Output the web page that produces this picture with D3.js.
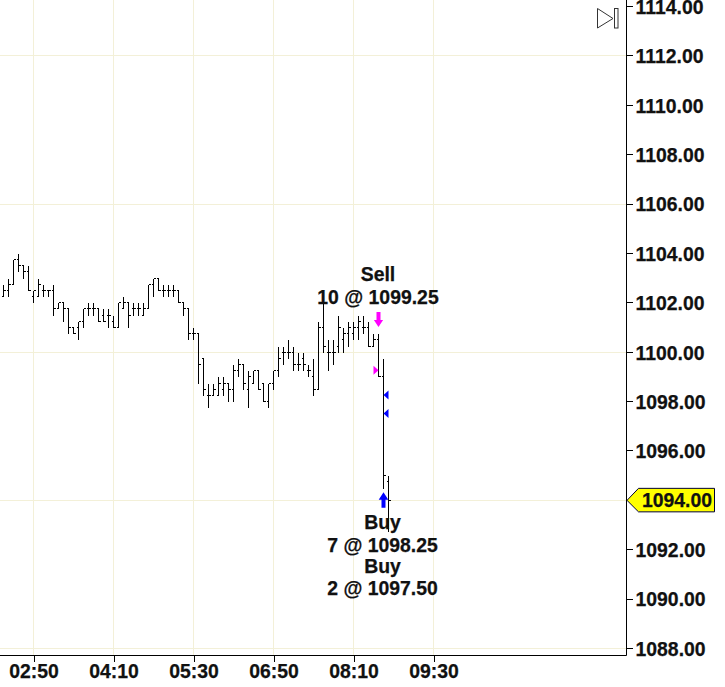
<!DOCTYPE html>
<html><head><meta charset="utf-8">
<script src="https://cdnjs.cloudflare.com/ajax/libs/d3/7.8.5/d3.min.js"></script>
<style>html,body{margin:0;padding:0;background:#fff;overflow:hidden}svg{display:block}text{font-family:"Liberation Sans",Arial,sans-serif;font-weight:bold;fill:#111;stroke:#111;stroke-width:0.25px}</style>
</head><body><svg id="c" width="725" height="687"></svg>
<script>
const firstBarMinute = 140, barMinutes = 5;
const opens = [1102.25,1102.5,1102.75,1103.75,1103.5,1103.25,1102.25,1102.25,1102.5,1102.5,
1102.5,1101.75,1102,1101.75,1101,1101,1101.25,1101.75,1101.75,1101.75,
1101.5,1101.5,1101.25,1101,1101.75,1102,1101.75,1101.75,1101.5,1101.75,
1102.75,1103,1102.5,1102.5,1102.5,1102.5,1102,1101.75,1100.75,1100.75,
1099.75,1098.25,1098.25,1098.25,1098.5,1098.75,1098.5,1099.25,1099.5,1098.5,
1098.75,1099.25,1098.75,1098,1098.75,1099.25,1100,1100,1100,1099.5,
1099.75,1099.25,1099,1098.5,1101,1100,1100,1100.25,1100.5,1100.75,
1100.75,1101,1101,1101,1100.25,1100.5,1099,1094.75];
const highs = [1102.75,1103,1103.75,1104,1103.5,1103.5,1102.5,1103,1102.75,1102.5,
1102.75,1102,1102,1101.75,1101,1101.25,1101.75,1102,1102,1101.75,
1101.75,1101.75,1101.5,1102,1102.25,1102,1102,1102,1102,1102.75,
1103,1103,1102.75,1102.75,1102.75,1102.5,1102,1101.75,1101,1100.75,
1099.75,1098.75,1098.75,1099,1099,1098.75,1099.5,1099.75,1099.5,1099.25,
1099.25,1099.25,1098.75,1098.75,1099.25,1100.25,1100.25,1100.5,1100.25,1100,
1100,1099.5,1099.75,1101.25,1102,1100.5,1100.5,1101.5,1101,1101.25,
1101.25,1101.5,1101.5,1101.25,1100.75,1100.75,1099.75,1095];
const lows = [1102.25,1102.25,1102.75,1103.25,1103,1102.5,1102,1102.25,1102.25,1102.25,
1101.5,1101.75,1101.25,1100.75,1100.75,1100.5,1101,1101.5,1101.5,1101.25,
1101.25,1101,1101,1101,1101.75,1101,1101.5,1101.5,1101.5,1101.75,
1102.25,1102.5,1102.25,1102.25,1102.25,1102,1101.5,1100.5,1100.5,1098.75,
1098.25,1097.75,1098.25,1098.25,1098.25,1098,1098,1099,1098.5,1097.75,
1098.75,1098.5,1098,1097.75,1098.5,1099,1099.5,1099.75,1099.25,1099.25,
1099.25,1099,1098.25,1098.5,1100,1099.25,1099.5,1100,1100,1100.25,
1100.5,1100.5,1100.75,1100.25,1100.25,1099,1094.5,1092.75];
const closes = [1102.5,1102.75,1103.75,1103.5,1103.25,1102.5,1102.5,1102.75,1102.5,1102.5,
1101.75,1102,1101.75,1101,1100.75,1101.25,1101.75,1101.75,1101.75,1101.25,
1101.25,1101.5,1101,1102,1102,1101.5,1101.75,1101.75,1101.75,1102.75,
1103,1102.5,1102.5,1102.5,1102.5,1102,1101.75,1100.75,1100.75,1099.5,
1098.5,1098.25,1098.5,1098.75,1098.75,1098.5,1099.25,1099.5,1098.75,1099,
1099.25,1098.5,1098,1098.75,1099.25,1099.75,1100,1100,1099.5,1099.5,
1099.5,1099.25,1098.5,1101,1100.25,1100,1100,1101,1100.75,1101,
1101,1101.25,1101,1100.25,1100.5,1099,1095,1094];
const priceTicks = [1114,1112,1110,1108,1106,1104,1102,1100,1098,1096,1094,1092,1090,1088];
const gridPrices = [1112,1106,1100,1094,1088];
const timeTickMinutes = [170,250,330,410,490,570];
const timeTickLabels = ["02:50","04:10","05:30","06:50","08:10","09:30"];
const lastPrice = 1094;
const sellFill = {minute:515,price:1099.25,arrowPrice:1101};
const buyFill = {minute:520,arrowPrice:1094};
const sellMarkPrices = [1099.25];
const buyMarkPrices = [1098.25,1097.5];
const sellLines = ["Sell","10 @ 1099.25"];
const buyLines = ["Buy","7 @ 1098.25","Buy","2 @ 1097.50"];

const plotR=626.5,plotB=655.5,fs="19.4px";
const svg=d3.select("#c");
const y=d3.scaleLinear().domain([1114,1088]).range([6,648]);
const x=d3.scaleLinear().domain([170,570]).range([33.5,433.5]);
const gridC="#f3f0d8";
const py=v=>Math.round(y(v))+0.5;
const gridG=svg.append("g").attr("shape-rendering","crispEdges");
gridG.selectAll("line.h").data(gridPrices).join("line").attr("class","h").attr("x1",0).attr("x2",plotR)
 .attr("y1",d=>py(d)).attr("y2",d=>py(d)).attr("stroke",gridC);
gridG.selectAll("line.v").data(timeTickMinutes).join("line").attr("class","v").attr("y1",0).attr("y2",plotB)
 .attr("x1",d=>x(d)).attr("x2",d=>x(d)).attr("stroke",gridC);

// OHLC bars
const bars=svg.append("g").attr("stroke","#000").attr("shape-rendering","crispEdges");
const mx=i=>Math.floor(x(firstBarMinute+i*barMinutes))+0.5;
opens.forEach((o,i)=>{
  const X=mx(i);
  bars.append("line").attr("x1",X).attr("x2",X).attr("y1",py(highs[i])).attr("y2",py(lows[i]));
  bars.append("line").attr("x1",X-2).attr("x2",X).attr("y1",py(o)).attr("y2",py(o));
  bars.append("line").attr("x1",X).attr("x2",X+2).attr("y1",py(closes[i])).attr("y2",py(closes[i]));
});

// axes
const ay=svg.append("g").attr("transform",`translate(${plotR},0)`)
 .call(d3.axisRight(y).tickValues(priceTicks).tickSize(6).tickPadding(3)
   .tickFormat(d=>d===lastPrice?"":d3.format(".2f")(d)));
ay.select(".domain").attr("d",`M0,0V${plotB}`).attr("stroke","#000");
ay.selectAll("line").attr("stroke","#000").attr("shape-rendering","crispEdges");
ay.selectAll("text").style("font-size",fs).attr("fill","#111").attr("dy","0.38em");
const ax=svg.append("g").attr("transform",`translate(0,${plotB})`)
 .call(d3.axisBottom(x).tickValues(timeTickMinutes).tickSize(6).tickPadding(3).tickFormat((d,i)=>timeTickLabels[i]));
ax.select(".domain").attr("d",`M0,0H${plotR}`).attr("stroke","#000");
ax.selectAll("line").attr("stroke","#000").attr("shape-rendering","crispEdges");
ax.selectAll("text").style("font-size",fs).attr("fill","#111");

// last price flag
const ly=y(lastPrice);
svg.append("path").attr("d",`M627,${ly+0.5}L638.5,${ly-11.5}H714.5V${ly+12}H638.5Z`).attr("fill","#ffff00").attr("stroke","#000033");
svg.append("text").attr("x",712).attr("y",ly).attr("dy","0.38em").attr("text-anchor","end").style("font-size",fs).text(d3.format(".2f")(lastPrice));

// skip button
svg.append("path").attr("d","M597.5,8.5L613,18.5L597.5,28Z").attr("fill","none").attr("stroke","#333");
svg.append("rect").attr("x",614.5).attr("y",8.5).attr("width",3.5).attr("height",19.5).attr("fill","none").attr("stroke","#333");

// trade marks
const magenta="#ff00ff",blue="#0000ff";
const sellX=mx((sellFill.minute-firstBarMinute)/barMinutes);
const buyX=mx((buyFill.minute-firstBarMinute)/barMinutes);
svg.append("path").attr("transform",`translate(${sellX},${y(sellFill.arrowPrice)})`)
 .attr("d","M-2,-15V-7H-4.6L0,0L4.6,-7H2V-15Z").attr("fill",magenta);
svg.append("path").attr("transform",`translate(${buyX},${y(buyFill.arrowPrice)+8})`)
 .attr("d","M-2,0V-8H-4.8L0,-15.5L4.8,-8H2V0Z").attr("fill",blue);
sellMarkPrices.forEach(p=>svg.append("path").attr("transform",`translate(${sellX},${y(p)})`).attr("d","M-5,-4.5L0,0L-5,4.5Z").attr("fill",magenta));
buyMarkPrices.forEach(p=>svg.append("path").attr("transform",`translate(${buyX},${y(p)})`).attr("d","M5,-4.5L0,0L5,4.5Z").attr("fill",blue));

// trade text
const sellY=[281,304], buyY=[529,552,573,595];
sellLines.forEach((t,i)=>svg.append("text").attr("x",378).attr("y",sellY[i]).attr("text-anchor","middle").style("font-size",fs).text(t));
buyLines.forEach((t,i)=>svg.append("text").attr("x",382.5).attr("y",buyY[i]).attr("text-anchor","middle").style("font-size",fs).text(t));
</script></body></html>
